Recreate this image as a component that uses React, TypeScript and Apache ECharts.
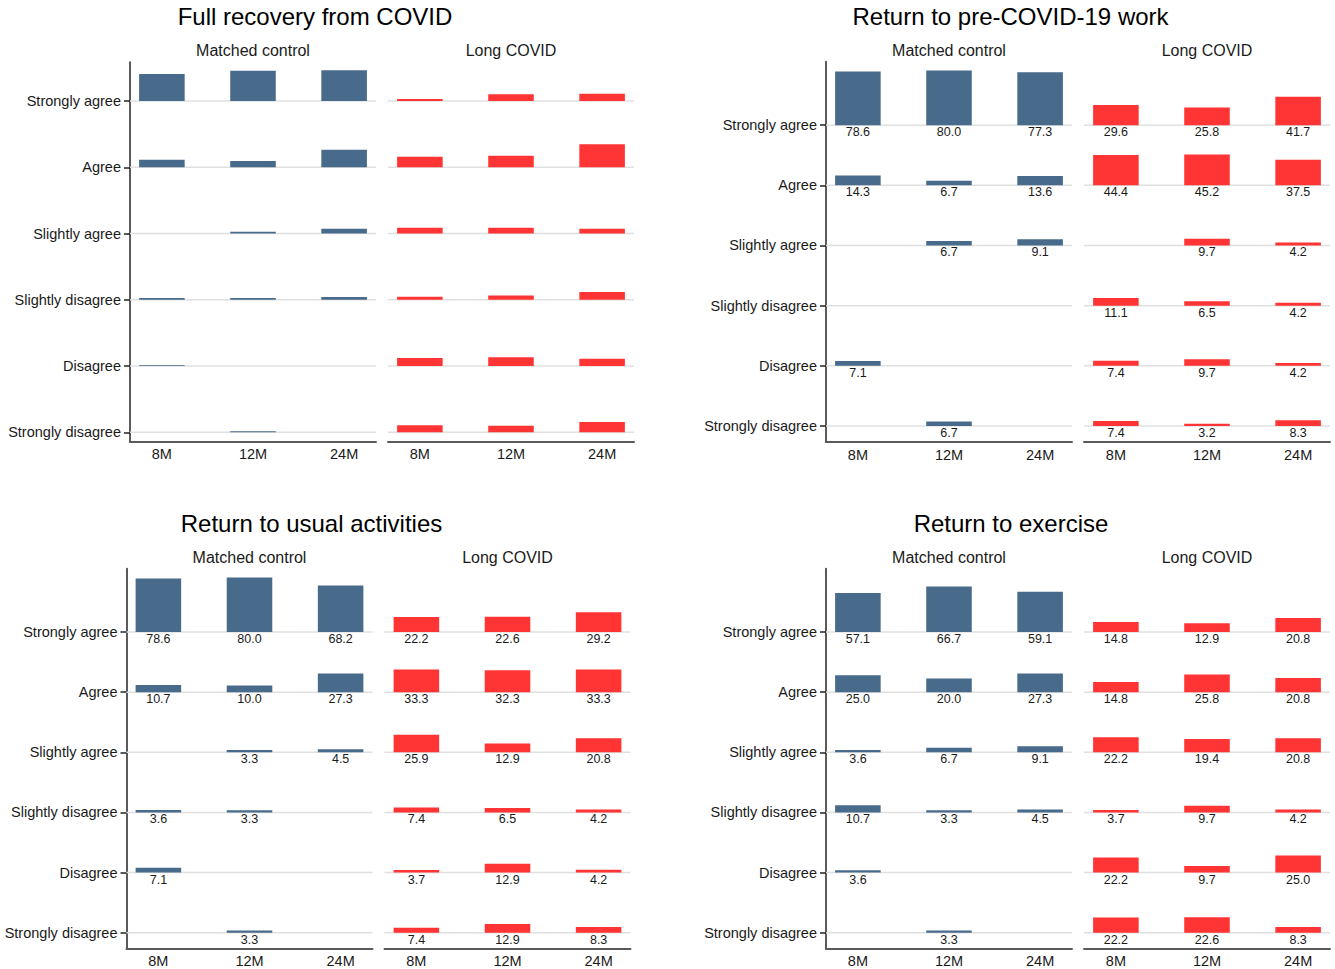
import React, { useEffect, useRef } from 'react';
import * as echarts from 'echarts';

const timepoints = ['8M', '12M', '24M'];
const responses = ['Strongly agree', 'Agree', 'Slightly agree', 'Slightly disagree', 'Disagree', 'Strongly disagree'];
const groupNames = ['Matched control', 'Long COVID'];
const panelTitles = ['Full recovery from COVID', 'Return to pre-COVID-19 work', 'Return to usual activities', 'Return to exercise'];

// rows follow `responses`, columns follow `timepoints` (percent)
const recoveryControl = [[35.9, 40.2, 40.8], [10.1, 8.4, 23.4], [0, 2.3, 6.2], [2.3, 2.3, 3.6], [0.9, 0, 0], [0, 1.3, 0]];
const recoveryLongCovid = [[2.7, 8.9, 9.7], [14.1, 15.4, 30.6], [7.6, 7.6, 6.2], [4.0, 5.7, 10.2], [10.6, 11.6, 9.7], [9.3, 8.8, 13.7]];
const workControl = [[78.6, 80.0, 77.3], [14.3, 6.7, 13.6], [0, 6.7, 9.1], [0, 0, 0], [7.1, 0, 0], [0, 6.7, 0]];
const workLongCovid = [[29.6, 25.8, 41.7], [44.4, 45.2, 37.5], [0, 9.7, 4.2], [11.1, 6.5, 4.2], [7.4, 9.7, 4.2], [7.4, 3.2, 8.3]];
const activitiesControl = [[78.6, 80.0, 68.2], [10.7, 10.0, 27.3], [0, 3.3, 4.5], [3.6, 3.3, 0], [7.1, 0, 0], [0, 3.3, 0]];
const activitiesLongCovid = [[22.2, 22.6, 29.2], [33.3, 32.3, 33.3], [25.9, 12.9, 20.8], [7.4, 6.5, 4.2], [3.7, 12.9, 4.2], [7.4, 12.9, 8.3]];
const exerciseControl = [[57.1, 66.7, 59.1], [25.0, 20.0, 27.3], [3.6, 6.7, 9.1], [10.7, 3.3, 4.5], [3.6, 0, 0], [0, 3.3, 0]];
const exerciseLongCovid = [[14.8, 12.9, 20.8], [14.8, 25.8, 20.8], [22.2, 19.4, 20.8], [3.7, 9.7, 4.2], [22.2, 9.7, 25.0], [22.2, 22.6, 8.3]];

const panelData = [
  [recoveryControl, recoveryLongCovid],
  [workControl, workLongCovid],
  [activitiesControl, activitiesLongCovid],
  [exerciseControl, exerciseLongCovid],
];

const FONT = '"Liberation Sans", Arial, Helvetica, sans-serif';
const COLORS = ['#486A8B', '#FF3434'];
const ROW_STEP = 88;
const X_MIN = -0.35;
const X_MAX = 2.35;
const BAR_W = 0.5;
const SUB_W = 246;

const layouts = [
  { top: 62.3, height: 379.4, lefts: [130, 388], titleX: 315, titleY: 16.5, subY: 50, yMin: -12.5, yMax: 491.4, labels: false },
  { top: 61.7, height: 380.3, lefts: [826, 1084], titleX: 1010.5, titleY: 16.5, subY: 50, yMin: -23.4, yMax: 532.8, labels: true },
  { top: 568.7, height: 380, lefts: [126.5, 384.5], titleX: 311.5, titleY: 523.5, subY: 557, yMin: -23.4, yMax: 532.8, labels: true },
  { top: 568.7, height: 380, lefts: [826, 1084], titleX: 1011, titleY: 523.5, subY: 557, yMin: -23.4, yMax: 532.8, labels: true },
];

const baselines = responses.map((_, r) => (responses.length - 1 - r) * ROW_STEP);

function buildOption() {
  const grid: any[] = [];
  const xAxis: any[] = [];
  const yAxis: any[] = [];
  const series: any[] = [];
  const graphics: any[] = [];

  layouts.forEach((L, p) => {
    graphics.push({
      type: 'text', x: L.titleX, y: L.titleY,
      style: { text: panelTitles[p], fill: '#000', fontSize: 24, fontFamily: FONT, align: 'center', verticalAlign: 'middle', textAlign: 'center', textVerticalAlign: 'middle' },
    });
    [0, 1].forEach((g) => {
      const gi = grid.length;
      const left = L.lefts[g];
      grid.push({ left, top: L.top, width: SUB_W, height: L.height, outerBoundsMode: 'none', containLabel: false });
      graphics.push({
        type: 'text', x: left + SUB_W / 2, y: L.subY,
        style: { text: groupNames[g], fill: '#1a1a1a', fontSize: 16, fontFamily: FONT, align: 'center', verticalAlign: 'middle', textAlign: 'center', textVerticalAlign: 'middle' },
      });
      xAxis.push({
        gridIndex: gi, type: 'value', min: X_MIN, max: X_MAX,
        axisLine: { show: true, onZero: false, lineStyle: { color: '#5a5a5a', width: 2 } },
        axisTick: { show: false },
        splitLine: { show: false },
        axisLabel: {
          customValues: [0, 1, 2],
          formatter: (v: number) => timepoints[Math.round(v)] ?? '',
          color: '#1a1a1a', fontSize: 14.5, fontFamily: FONT, margin: 5,
        },
      });
      yAxis.push({
        gridIndex: gi, type: 'value', min: L.yMin, max: L.yMax, show: g === 0,
        axisLine: { show: true, onZero: false, lineStyle: { color: '#5a5a5a', width: 2 } },
        axisTick: { show: true, length: 6, customValues: baselines, lineStyle: { color: '#222', width: 1.5 } },
        splitLine: { show: false },
        axisLabel: {
          customValues: baselines,
          formatter: (v: number) => responses[responses.length - 1 - Math.round(v / ROW_STEP)] ?? '',
          color: '#1a1a1a', fontSize: 14.5, fontFamily: FONT, margin: 9,
        },
      });

      // grid lines at each response baseline
      series.push({
        type: 'custom', xAxisIndex: gi, yAxisIndex: gi, z: 1, silent: true,
        encode: { x: 0, y: 1 },
        data: baselines.map((b) => [X_MIN, b]),
        renderItem: (params: any, api: any) => {
          const b = api.value(1);
          const a = api.coord([X_MIN, b]);
          const c = api.coord([X_MAX, b]);
          return { type: 'line', shape: { x1: a[0], y1: a[1], x2: c[0], y2: c[1] }, style: { stroke: '#e0e0e0', lineWidth: 1.5 } };
        },
      });

      const rows = panelData[p][g];
      const data: number[][] = [];
      rows.forEach((vals, r) => {
        vals.forEach((v, t) => {
          if (v > 0) data.push([t, baselines[r], v]);
        });
      });
      const color = COLORS[g];
      const showLabels = L.labels;
      series.push({
        type: 'custom', xAxisIndex: gi, yAxisIndex: gi, z: 2, silent: true,
        encode: { x: 0, y: 1 },
        data,
        renderItem: (params: any, api: any) => {
          const t = api.value(0);
          const base = api.value(1);
          const v = api.value(2);
          const p0 = api.coord([t, base]);
          const p1 = api.coord([t, base + v]);
          const w = api.size([BAR_W, 0])[0];
          const children: any[] = [
            { type: 'rect', shape: { x: p0[0] - w / 2, y: p1[1], width: w, height: p0[1] - p1[1] }, style: { fill: color } },
          ];
          if (showLabels) {
            children.push({
              type: 'text', x: p0[0], y: p0[1] + 0.5,
              style: { text: v.toFixed(1), fill: '#1a1a1a', fontSize: 12.5, fontFamily: FONT, align: 'center', verticalAlign: 'top', textAlign: 'center', textVerticalAlign: 'top' },
            });
          }
          return { type: 'group', children };
        },
      });
    });
  });

  return {
    animation: false,
    backgroundColor: '#ffffff',
    grid, xAxis, yAxis, series,
    graphic: { elements: graphics },
  };
}

export default function App() {
  const ref = useRef<HTMLDivElement>(null);
  useEffect(() => {
    if (!ref.current) return;
    const chart = echarts.init(ref.current, undefined, { renderer: 'svg' });
    chart.setOption(buildOption() as any);
    return () => chart.dispose();
  }, []);
  return <div ref={ref} style={{ position: 'absolute', left: 0, top: 0, width: 1335, height: 969, background: '#fff' }} />;
}
